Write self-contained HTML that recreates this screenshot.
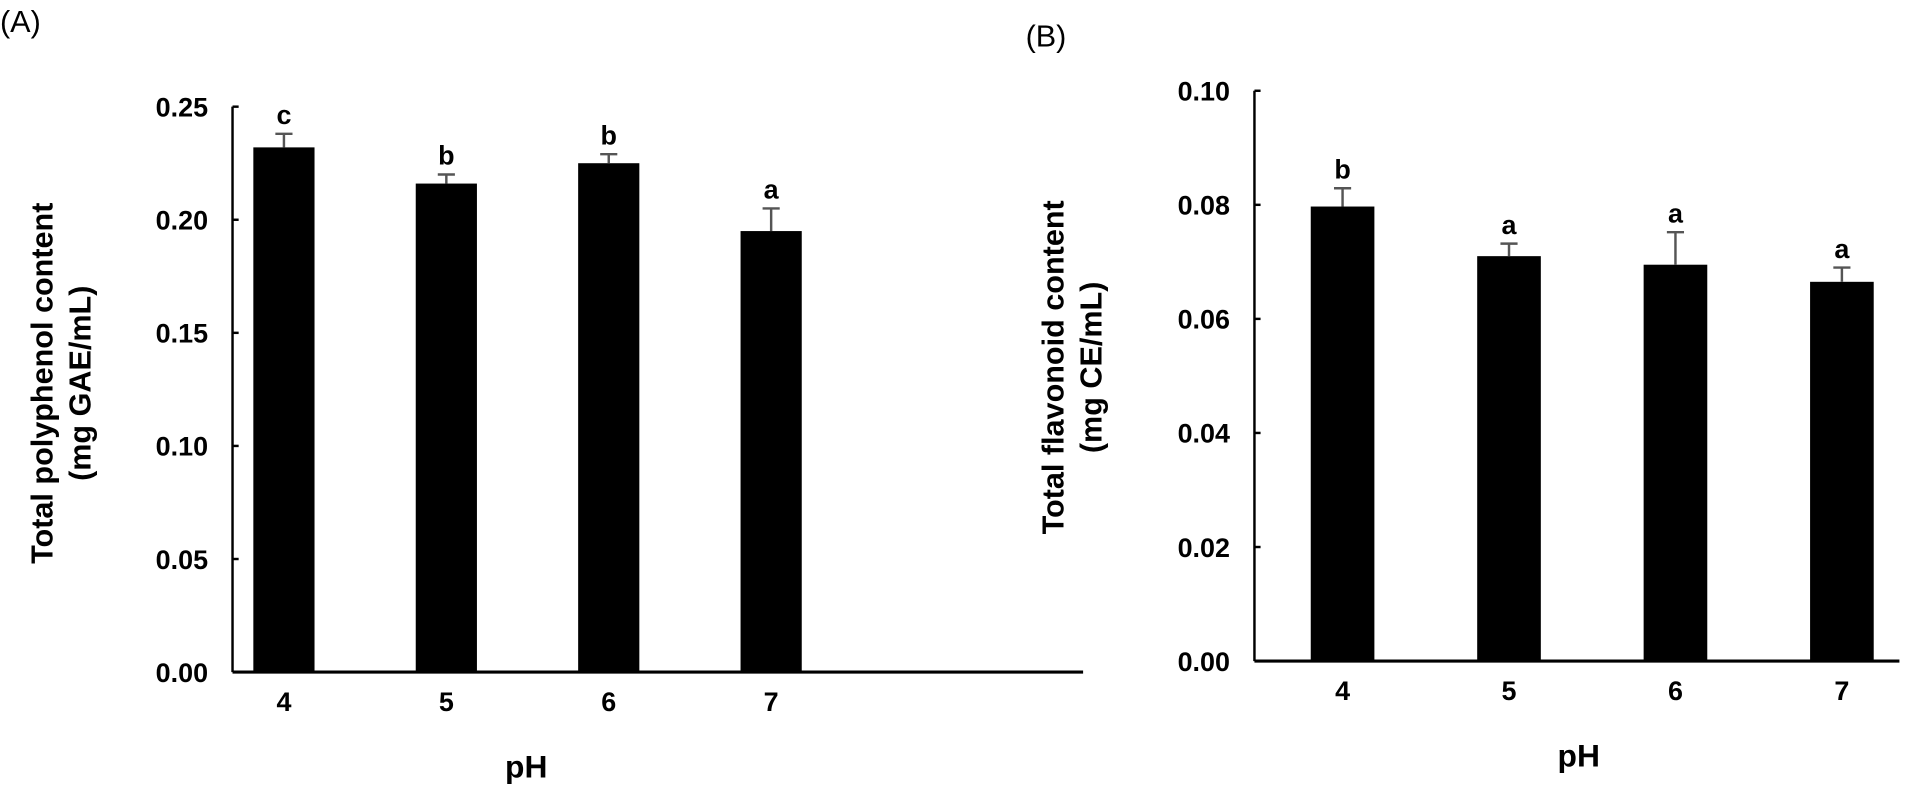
<!DOCTYPE html>
<html><head><meta charset="utf-8"><style>
body{margin:0;background:#fff;width:1919px;height:791px;overflow:hidden}
svg{font-family:"Liberation Sans",Arial,sans-serif;display:block}
</style></head><body>
<svg id="s" width="1919" height="791" viewBox="0 0 1568 646">
<text x="0" y="26" font-size="25">(A)</text>
<text x="838" y="38" font-size="25">(B)</text>
<g id="ga"></g>
<g id="gb"></g>
</svg>
<script>
const categories=["4","5","6","7"];
const valuesA=[0.232,0.216,0.225,0.195];
const errorsA=[0.006,0.004,0.004,0.010];
const lettersA=["c","b","b","a"];
const ticksA=["0.00","0.05","0.10","0.15","0.20","0.25"];
const valuesB=[0.0797,0.0710,0.0695,0.0665];
const errorsB=[0.0032,0.0022,0.0057,0.0025];
const lettersB=["b","a","a","a"];
const ticksB=["0.00","0.02","0.04","0.06","0.08","0.10"];
const NS="http://www.w3.org/2000/svg";
function mk(p,t,a){const e=document.createElementNS(NS,t);for(const k in a)e.setAttribute(k,a[k]);p.appendChild(e);return e;}
function draw(g,cfg,vals,errs,letters,ticks){
  const y=v=>cfg.y0-(v/cfg.max)*(cfg.y0-cfg.y1);
  const x=i=>cfg.xs+i*cfg.step;
  let ax=mk(g,"line",{x1:cfg.ax,y1:cfg.y1,x2:cfg.ax,y2:cfg.y0,stroke:"#000","stroke-width":2});
  
  
  let bx=mk(g,"line",{x1:cfg.ax,y1:cfg.y0,x2:cfg.xe,y2:cfg.y0,stroke:"#000","stroke-width":2.5});
  
  
  ticks.forEach(t=>{const v=parseFloat(t);const yy=y(v);
    let tl=mk(g,"line",{x1:cfg.ax,y1:yy,x2:cfg.ax+5,y2:yy,stroke:"#000","stroke-width":2});
    
    
    let tx=mk(g,"text",{x:cfg.ax-20,y:yy+8,"font-size":22,"font-weight":"bold","text-anchor":"end"});
    tx.textContent=t;
    
    
  });
  categories.forEach((c,i)=>{
    const cx=x(i),top=y(vals[i]),et=y(vals[i]+errs[i]);
    let r=mk(g,"rect",{x:cx-cfg.bw/2,y:top,width:cfg.bw,height:cfg.y0-top,fill:"#000"});
    
    
    let e1=mk(g,"line",{x1:cx,y1:top,x2:cx,y2:et,stroke:"#555","stroke-width":2});
    
    
    let e2=mk(g,"line",{x1:cx-7,y1:et,x2:cx+7,y2:et,stroke:"#555","stroke-width":2});
    
    
    let lt=mk(g,"text",{x:cx,y:et-8,"font-size":22,"font-weight":"bold","text-anchor":"middle"});
    lt.textContent=letters[i];
    
    
    let xl=mk(g,"text",{x:cx,y:cfg.y0+32,"font-size":22,"font-weight":"bold","text-anchor":"middle"});
    xl.textContent=c;
    
    
  });
  let xt=mk(g,"text",{x:cfg.px,y:cfg.y0+86,"font-size":26,"font-weight":"bold","text-anchor":"middle"});
  xt.textContent="pH";
  
  
  const cy=cfg.ty;
  cfg.title.forEach((t,k)=>{
    const lx=cfg.tx+k*31;
    let yt=mk(g,"text",{x:lx,y:cy,"font-size":25,"font-weight":"bold","text-anchor":"middle",transform:`rotate(-90 ${lx} ${cy})`});
    yt.textContent=t;
    
    
  });
}
draw(document.getElementById("ga"),{ax:190,xe:885,y0:549,y1:87,max:0.25,xs:232,step:132.7,bw:50,tx:43,ty:313,px:430,title:["Total polyphenol content","(mg GAE/mL)"]},valuesA,errorsA,lettersA,ticksA);
draw(document.getElementById("gb"),{ax:1025,xe:1552,y0:540,y1:74,max:0.10,xs:1097,step:136,bw:52,tx:869,ty:300,px:1290,title:["Total flavonoid content","(mg CE/mL)"]},valuesB,errorsB,lettersB,ticksB);
</script>
</body></html>
